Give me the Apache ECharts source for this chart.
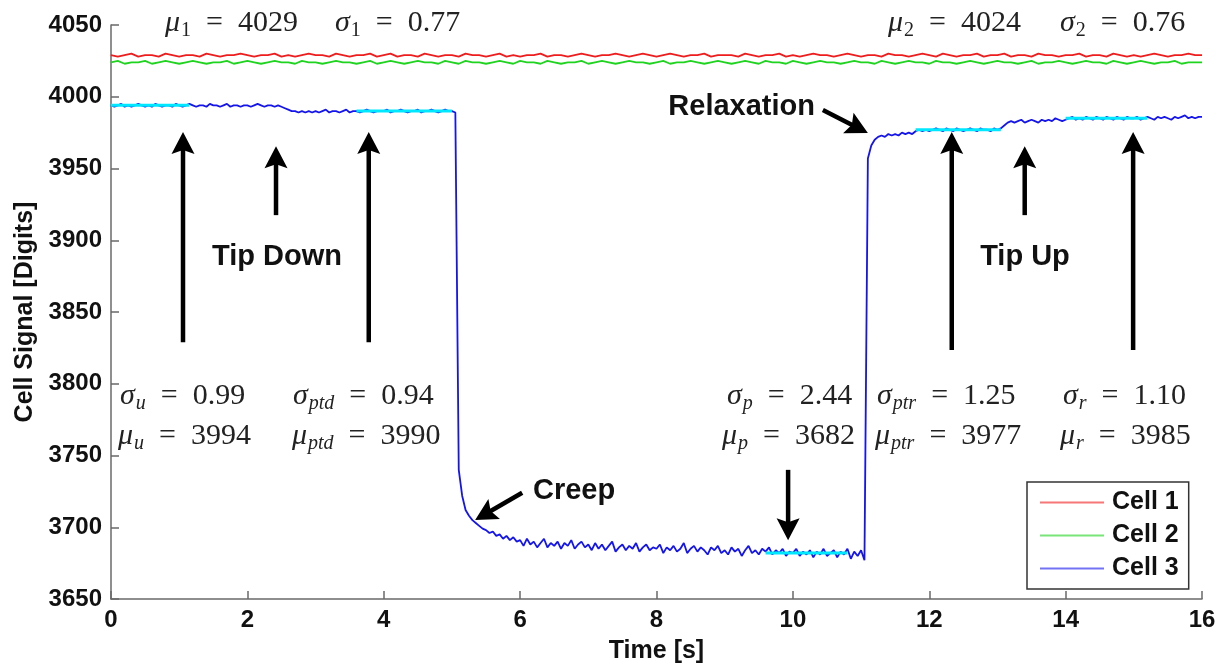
<!DOCTYPE html>
<html>
<head>
<meta charset="utf-8">
<title>Cell Signal</title>
<script src="https://cdn.jsdelivr.net/npm/echarts@6/dist/echarts.min.js"></script>
<style>
  html, body { margin: 0; padding: 0; background: #ffffff; }
  #chart { width: 1231px; height: 670px; }
</style>
</head>
<body>
<div id="chart"></div>
<script>
// ---- Axis ticks ----
const xTickValues = [0, 2, 4, 6, 8, 10, 12, 14, 16];
const yTickValues = [3650, 3700, 3750, 3800, 3850, 3900, 3950, 4000, 4050];

// ---- Sampling grids (seconds between samples) ----
const stepRef = 0.1;    // Cell 1 and Cell 2
const stepCell3 = 0.05; // Cell 3

// ---- Cell 1 signal, 0..16 s every 0.1 s ----
const cell1Signal = [
  4029,4028,4029,4030,4028,4029,4029,4028,4030,4029,
  4028,4029,4029,4028,4030,4029,4028,4029,4029,4030,
  4029,4028,4029,4029,4030,4028,4029,4028,4029,4030,
  4029,4029,4028,4030,4029,4028,4029,4029,4030,4028,
  4029,4030,4028,4029,4029,4028,4030,4029,4028,4029,
  4029,4028,4030,4029,4029,4028,4029,4030,4028,4029,
  4028,4029,4029,4030,4028,4029,4029,4028,4029,4030,
  4029,4028,4029,4029,4030,4029,4028,4029,4030,4029,
  4028,4029,4030,4029,4028,4029,4029,4030,4028,4029,
  4029,4029,4028,4030,4029,4028,4029,4029,4030,4028,
  4029,4028,4029,4030,4029,4029,4028,4029,4030,4029,
  4028,4029,4029,4028,4030,4029,4029,4028,4029,4030,
  4029,4028,4030,4029,4028,4029,4029,4030,4028,4029,
  4029,4030,4028,4029,4029,4028,4030,4029,4029,4028,
  4029,4029,4030,4028,4029,4029,4028,4030,4029,4028,
  4029,4028,4029,4030,4029,4028,4029,4029,4030,4029,
  4029
];

// ---- Cell 2 signal, 0..16 s every 0.1 s ----
const cell2Signal = [
  4024,4025,4023,4024,4024,4025,4023,4024,4025,4024,
  4023,4024,4025,4024,4023,4024,4024,4025,4023,4024,
  4025,4024,4023,4024,4025,4024,4024,4023,4025,4024,
  4024,4023,4024,4025,4024,4024,4023,4024,4025,4023,
  4024,4025,4024,4023,4024,4025,4024,4024,4023,4025,
  4024,4023,4025,4024,4024,4023,4024,4025,4024,4023,
  4025,4024,4024,4023,4025,4024,4023,4024,4024,4025,
  4023,4024,4025,4024,4023,4024,4025,4024,4024,4023,
  4024,4025,4023,4024,4024,4025,4024,4023,4024,4025,
  4024,4023,4024,4025,4024,4023,4025,4024,4024,4023,
  4025,4024,4023,4024,4025,4024,4024,4023,4024,4025,
  4024,4024,4023,4025,4024,4023,4024,4025,4024,4024,
  4023,4025,4024,4024,4023,4024,4025,4024,4023,4024,
  4025,4024,4024,4023,4024,4025,4023,4024,4024,4025,
  4024,4023,4024,4025,4024,4024,4023,4025,4024,4023,
  4024,4025,4024,4023,4024,4024,4025,4023,4024,4024,
  4024
];

// ---- Cell 3 signal, 0..16 s every 0.05 s (one row per second) ----
const cell3Signal = [
  3994,3993,3994,3995,3993,3994,3993,3994,3995,3994,3993,3994,3993,3995,3994,3993,3994,3994,3993,3995,
  3994,3993,3994,3995,3994,3993,3994,3994,3993,3995,3994,3994,3993,3994,3995,3993,3994,3994,3993,3994,
  3994,3993,3994,3995,3994,3993,3994,3994,3993,3994,3993,3992,3991,3990,3990,3989,3990,3989,3990,3989,
  3990,3989,3990,3991,3989,3990,3990,3989,3990,3991,3989,3990,3990,3989,3990,3991,3990,3989,3990,3990,
  3990,3991,3989,3990,3990,3991,3990,3989,3990,3990,3991,3989,3990,3990,3991,3990,3989,3990,3991,3990,
  3990,3989,3740,3722,3712,3708,3705,3703,3701,3699,3698,3696,3697,3694,3695,3692,3694,3691,3693,3690,
  3691,3687,3692,3688,3690,3686,3689,3692,3686,3689,3687,3690,3685,3689,3687,3691,3685,3688,3690,3686,
  3688,3684,3689,3685,3688,3684,3687,3690,3683,3686,3688,3684,3687,3685,3689,3683,3686,3688,3684,3686,
  3685,3688,3682,3686,3684,3687,3683,3685,3689,3682,3685,3687,3683,3686,3684,3681,3686,3684,3687,3682,
  3684,3681,3686,3683,3685,3680,3684,3687,3682,3684,3681,3685,3683,3686,3681,3684,3682,3685,3680,3683,
  3682,3685,3680,3683,3681,3684,3679,3683,3681,3685,3680,3682,3684,3679,3683,3681,3685,3678,3683,3680,
  3684,3677,3957,3966,3970,3972,3973,3972,3974,3973,3974,3973,3975,3974,3975,3974,3976,3977,3976,3977,
  3976,3977,3978,3977,3976,3978,3977,3976,3978,3977,3976,3977,3978,3977,3976,3978,3977,3977,3976,3978,
  3977,3978,3980,3982,3983,3982,3983,3984,3982,3983,3984,3983,3982,3984,3983,3984,3983,3985,3984,3983,
  3984,3985,3986,3984,3985,3984,3986,3985,3984,3986,3985,3984,3986,3985,3984,3986,3985,3984,3986,3985,
  3985,3986,3984,3985,3986,3985,3984,3986,3985,3986,3985,3984,3986,3985,3986,3987,3985,3986,3985,3986,3986
];

// ---- Fitted plateaus of Cell 3 (unloaded, pre-tip-down, pressed, post-tip-release, released) ----
const fitKeys  = ['u', 'ptd', 'p', 'ptr', 'r'];
const fitStart = [0.0, 3.6, 9.6, 11.8, 14.0];
const fitEnd   = [1.15, 5.0, 10.8, 13.05, 15.2];
const fitMean  = [3994, 3990, 3682, 3977, 3985];
const fitStd   = ['0.99', '0.94', '2.44', '1.25', '1.10'];

// ---- Reference cells statistics ----
const refMean = [4029, 4024];
const refStd  = ['0.77', '0.76'];

const SANS = '"Liberation Sans", Arial, Helvetica, sans-serif';
const SERIF = '"Liberation Serif", "DejaVu Serif", "Times New Roman", serif';
const AXIS_GRAY = '#6a6a6a';

const toPairs = (arr, step) => arr.map((v, i) => [+(i * step).toFixed(3), v]);

const fitSeries = fitKeys.map((k, i) => ({
  name: 'fit_' + k,
  type: 'line',
  data: [[fitStart[i], fitMean[i]], [fitEnd[i], fitMean[i]]],
  symbol: 'none',
  silent: true,
  lineStyle: { color: '#00e8ff', width: 3 },
  z: 5,
  animation: false
}));

const axisLabelStyle = {
  margin: 9, fontFamily: SANS, fontWeight: 'bold', fontSize: 24, color: '#111',
  formatter: v => String(v)
};

const chart = echarts.init(document.getElementById('chart'), null, { renderer: 'canvas' });

chart.setOption({
  animation: false,
  backgroundColor: '#ffffff',
  grid: { left: 111, right: 29, top: 25, bottom: 71, containLabel: false },
  xAxis: {
    type: 'value',
    min: xTickValues[0],
    max: xTickValues[xTickValues.length - 1],
    interval: xTickValues[1] - xTickValues[0],
    name: 'Time [s]',
    nameLocation: 'middle',
    nameGap: 40,
    nameTextStyle: { fontFamily: SANS, fontWeight: 'bold', fontSize: 25, color: '#111' },
    axisLine: { show: true, lineStyle: { color: AXIS_GRAY, width: 1.5 } },
    axisTick: { show: true, inside: true, length: 8, lineStyle: { color: AXIS_GRAY, width: 1.5 } },
    axisLabel: axisLabelStyle,
    splitLine: { show: false }
  },
  yAxis: {
    type: 'value',
    min: yTickValues[0],
    max: yTickValues[yTickValues.length - 1],
    interval: yTickValues[1] - yTickValues[0],
    name: 'Cell Signal [Digits]',
    nameLocation: 'middle',
    nameGap: 73,
    nameTextStyle: { fontFamily: SANS, fontWeight: 'bold', fontSize: 25, color: '#111' },
    axisLine: { show: true, lineStyle: { color: AXIS_GRAY, width: 1.5 } },
    axisTick: { show: true, inside: true, length: 8, lineStyle: { color: AXIS_GRAY, width: 1.5 } },
    axisLabel: axisLabelStyle,
    splitLine: { show: false }
  },
  legend: {
    data: ['Cell 1', 'Cell 2', 'Cell 3'],
    orient: 'vertical',
    left: 1027,
    top: 482,
    icon: 'rect',
    itemWidth: 64,
    itemHeight: 2,
    itemGap: 8,
    padding: [8, 10, 8, 13],
    backgroundColor: '#ffffff',
    borderColor: '#333333',
    borderWidth: 1.5,
    borderRadius: 0,
    selectedMode: false,
    itemStyle: { opacity: 0.6 },
    textStyle: { fontFamily: SANS, fontWeight: 'bold', fontSize: 25, color: '#111', padding: [0, 0, 0, 3] }
  },
  series: [
    {
      name: 'Cell 1', type: 'line', data: toPairs(cell1Signal, stepRef),
      symbol: 'none', color: '#ee1c1c', lineStyle: { width: 1.8 }, z: 3
    },
    {
      name: 'Cell 2', type: 'line', data: toPairs(cell2Signal, stepRef),
      symbol: 'none', color: '#1fd41f', lineStyle: { width: 1.8 }, z: 3
    },
    {
      name: 'Cell 3', type: 'line', data: toPairs(cell3Signal, stepCell3),
      symbol: 'none', color: '#1414ee', lineStyle: { width: 1.8 }, z: 4
    }
  ].concat(fitSeries)
});

// ---- Annotation arrows, in data units: [time, digits] ----
const arrows = [
  { from: [1.056, 3829], to: [1.056, 3975.5] },
  { from: [2.42, 3917.5], to: [2.42, 3965.5] },
  { from: [3.78, 3829], to: [3.78, 3975.5] },
  { from: [6.03, 3724], to: [5.34, 3705] },
  { from: [9.93, 3740], to: [9.93, 3691] },
  { from: [10.44, 3990.8], to: [11.10, 3974.7] },
  { from: [12.33, 3823.5], to: [12.33, 3975.5] },
  { from: [13.40, 3917.5], to: [13.40, 3965.5] },
  { from: [14.99, 3823.5], to: [14.99, 3975.5] }
];

const mathRich = {
  v: { fontFamily: SERIF, fontStyle: 'italic', fontSize: 30, lineHeight: 34, fill: '#222', color: '#222' },
  s: { fontFamily: SERIF, fontStyle: 'italic', fontSize: 20, lineHeight: 20, padding: [16, 0, 0, 1], fill: '#222', color: '#222' },
  d: { fontFamily: SERIF, fontSize: 20, lineHeight: 20, padding: [16, 0, 0, 1], fill: '#222', color: '#222' },
  n: { fontFamily: SERIF, fontSize: 30, lineHeight: 34, fill: '#222', color: '#222' }
};
const mathText = (sym, sub, val, upright) =>
  '{v|' + sym + '}{' + (upright ? 'd' : 's') + '|' + sub + '}{n|\u2002=\u2002' + val + '}';

function mathLabel(x, y, text) {
  return {
    type: 'text', x: x, y: y, silent: true, z: 110,
    style: { text: text, rich: mathRich, align: 'left', verticalAlign: 'middle', fill: '#222' }
  };
}
function boldLabel(x, y, text, align) {
  return {
    type: 'text', x: x, y: y, silent: true, z: 110,
    style: {
      text: text, fontFamily: SANS, fontWeight: 'bold', fontSize: 29,
      fill: '#111', align: align || 'center', verticalAlign: 'middle'
    }
  };
}

function buildAnnotations() {
  const px = (t, v) => chart.convertToPixel({ xAxisIndex: 0, yAxisIndex: 0 }, [t, v]);
  const g = [];
  const HL = 22, HW = 11.5, NOTCH = 4;
  arrows.forEach(a => {
    const p0 = px(a.from[0], a.from[1]);
    const p1 = px(a.to[0], a.to[1]);
    const dx = p1[0] - p0[0], dy = p1[1] - p0[1];
    const L = Math.hypot(dx, dy);
    const ux = dx / L, uy = dy / L, nx = -uy, ny = ux;
    const bx = p1[0] - ux * HL, by = p1[1] - uy * HL;
    g.push({
      type: 'line', silent: true, z: 100,
      shape: { x1: p0[0], y1: p0[1], x2: p1[0] - ux * (HL - 6), y2: p1[1] - uy * (HL - 6) },
      style: { stroke: '#000', lineWidth: 4.5 }
    });
    g.push({
      type: 'polygon', silent: true, z: 100,
      shape: { points: [
        [p1[0], p1[1]],
        [bx + nx * HW, by + ny * HW],
        [p1[0] - ux * (HL - NOTCH), p1[1] - uy * (HL - NOTCH)],
        [bx - nx * HW, by - ny * HW]
      ] },
      style: { fill: '#000' }
    });
  });

  // Reference cell statistics along the top
  g.push(mathLabel(165, 23, mathText('μ', '1', refMean[0], true)));
  g.push(mathLabel(335, 23, mathText('σ', '1', refStd[0], true)));
  g.push(mathLabel(888, 23, mathText('μ', '2', refMean[1], true)));
  g.push(mathLabel(1060, 23, mathText('σ', '2', refStd[1], true)));

  // Plateau statistics of Cell 3
  const statX = [[120, 118], [293, 292], [727, 722], [877, 875], [1063, 1060]];
  fitKeys.forEach((k, i) => {
    g.push(mathLabel(statX[i][0], 396, mathText('σ', k, fitStd[i], false)));
    g.push(mathLabel(statX[i][1], 436, mathText('μ', k, fitMean[i], false)));
  });

  g.push(boldLabel(277, 257, 'Tip Down'));
  g.push(boldLabel(1025, 257, 'Tip Up'));
  g.push(boldLabel(533, 491, 'Creep', 'left'));
  g.push(boldLabel(815, 107, 'Relaxation', 'right'));
  return g;
}

chart.setOption({ graphic: buildAnnotations() });
</script>
</body>
</html>
